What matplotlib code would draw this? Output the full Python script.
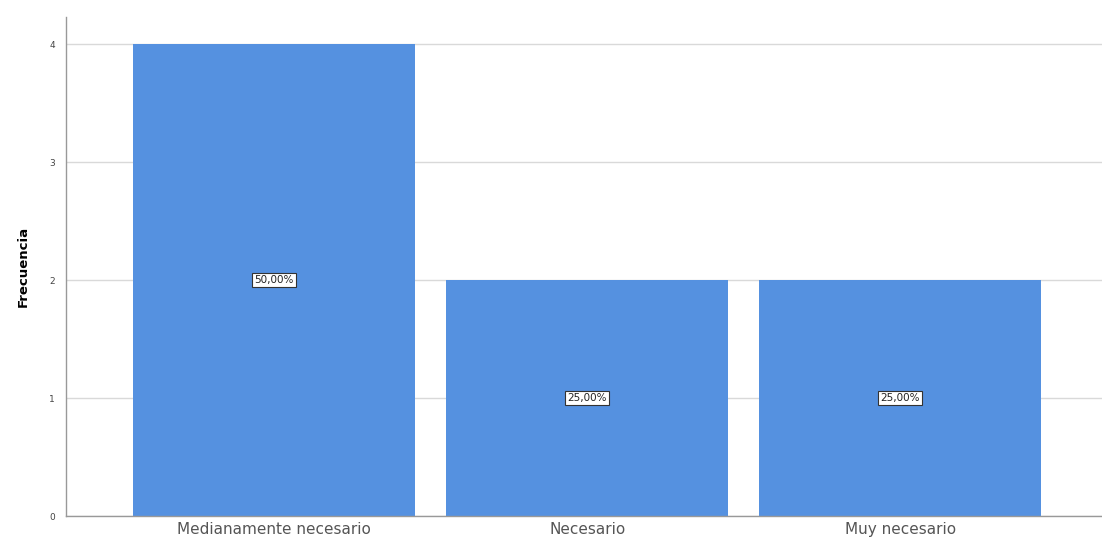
import numpy as np
import matplotlib.pyplot as plt

# data
categories = ['Medianamente necesario', 'Necesario', 'Muy necesario']
counts = [4, 2, 2]
percents = ['50,00%', '25,00%', '25,00%']

fig = plt.figure(figsize=(11.02, 5.41), dpi=100)
ax = fig.add_axes([0.0599, 0.0462, 0.9401, 0.9224])

x = np.arange(len(categories))
bars = ax.bar(x, counts, width=0.9, color='#5591E0', zorder=2)

for b, p in zip(bars, percents):
    ax.text(b.get_x() + b.get_width() / 2, b.get_height() / 2, p,
            ha='center', va='center', fontsize=7.5, color='#222222', zorder=3,
            bbox=dict(boxstyle='square,pad=0.2', fc='white', ec='#333333', lw=0.8))

ax.set_xlim(-0.665, 2.645)
ax.set_ylim(0, 4.229)
ax.set_yticks([0, 1, 2, 3, 4])
ax.set_xticks(x)
ax.set_xticklabels(categories, fontsize=11, color='#555555')
ax.tick_params(axis='y', labelsize=6.5, colors='#444444', length=0, pad=8)
ax.tick_params(axis='x', length=0, pad=4)
ax.yaxis.grid(True, color='#d9d9d9', lw=1, zorder=0)
ax.set_ylabel('Frecuencia', fontsize=9.5, fontweight='bold', labelpad=14)

for s in ['top', 'right']:
    ax.spines[s].set_visible(False)
for s in ['left', 'bottom']:
    ax.spines[s].set_color('#999999')
    ax.spines[s].set_linewidth(1)

fig.savefig('out.png', dpi=100)
